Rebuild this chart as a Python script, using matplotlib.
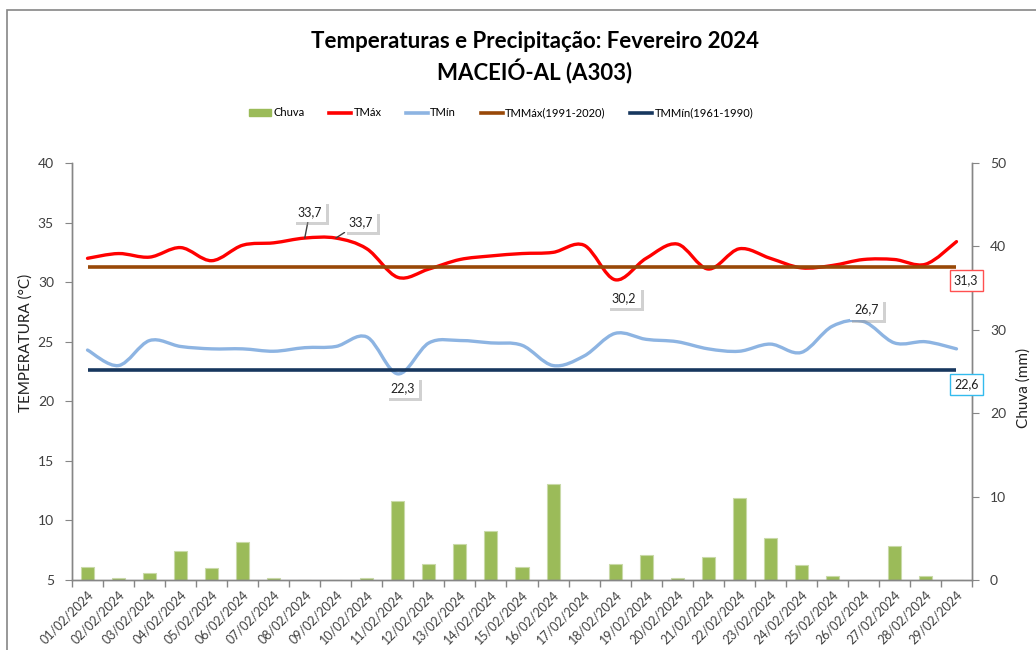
import numpy as np
import matplotlib
matplotlib.use("Agg")
import matplotlib.pyplot as plt
from matplotlib.path import Path
from matplotlib.patches import PathPatch, Rectangle
from matplotlib.lines import Line2D
from matplotlib.patches import Patch
import matplotlib.patheffects as pe

plt.rcParams['font.family'] = ['Lato', 'DejaVu Sans']

dias = [f"{d:02d}/02/2024" for d in range(1, 30)]

tmax = [32.0, 32.4, 32.1, 32.9, 31.8, 33.1, 33.3, 33.7, 33.7, 32.8,
        30.4, 31.1, 31.9, 32.2, 32.4, 32.5, 33.1, 30.2, 32.0, 33.2,
        31.1, 32.8, 32.0, 31.2, 31.4, 31.9, 31.9, 31.5, 33.4]

tmin = [24.3, 23.0, 25.1, 24.6, 24.4, 24.4, 24.2, 24.5, 24.6, 25.4,
        22.3, 24.9, 25.1, 24.9, 24.7, 23.0, 23.8, 25.7, 25.2, 25.0,
        24.4, 24.2, 24.8, 24.1, 26.3, 26.7, 24.9, 25.0, 24.4]

chuva = [1.5, 0.2, 0.8, 3.5, 1.4, 4.6, 0.2, 0.0, 0.0, 0.2,
         9.5, 1.9, 4.3, 5.9, 1.5, 11.5, 0.0, 1.9, 3.0, 0.2,
         2.8, 9.8, 5.0, 1.8, 0.5, 0.0, 4.1, 0.5, 0.0]

tm_max_normal = 31.3
tm_min_normal = 22.6

C_RAIN = '#9BBB59'
C_TMAX = '#FF0000'
C_TMIN = '#8DB4E2'
C_NMAX = '#984807'
C_NMIN = '#17375E'
C_AXIS = '#868686'
C_TEXT = '#404040'


def smooth_path(x, y):
    # bezier do tipo "linha suavizada" do Excel (catmull-rom)
    pts = np.column_stack([x, y]).astype(float)
    n = len(pts)
    verts = [pts[0]]
    codes = [Path.MOVETO]
    for i in range(n - 1):
        p0 = pts[i - 1] if i > 0 else pts[i]
        p1 = pts[i]
        p2 = pts[i + 1]
        p3 = pts[i + 2] if i + 2 < n else pts[i + 1]
        verts += [p1 + (p2 - p0) / 6, p2 - (p3 - p1) / 6, p2]
        codes += [Path.CURVE4] * 3
    return Path(verts, codes)


fig = plt.figure(figsize=(10.36, 6.5), dpi=100)
fig.patches.append(Rectangle((7 / 1036, -0.1), 1.2, 1 - 10 / 650 + 0.1,
                             transform=fig.transFigure, fill=False,
                             ec=C_AXIS, lw=1.2))

ax = fig.add_axes([72 / 1036, 1 - 580 / 650, 900 / 1036, 417 / 650])
ax2 = ax.twinx()
ax.set_zorder(ax2.get_zorder() + 1)
ax.patch.set_visible(False)

x = np.arange(len(dias))

ax2.bar(x, chuva, width=0.42, color=C_RAIN, edgecolor='#C9DAA8', linewidth=0.8)
ax2.set_ylim(0, 50)
ax2.set_yticks(np.arange(0, 51, 10))

ax.add_patch(PathPatch(smooth_path(x, tmax), fill=False, ec=C_TMAX, lw=2.4,
                       capstyle='round'))
ax.add_patch(PathPatch(smooth_path(x, tmin), fill=False, ec=C_TMIN, lw=2.4,
                       capstyle='round'))
ax.plot(x, [tm_max_normal] * len(x), color=C_NMAX, lw=2.6, solid_capstyle='butt')
ax.plot(x, [tm_min_normal] * len(x), color=C_NMIN, lw=2.6, solid_capstyle='butt')

ax.set_xlim(-0.5, len(x) - 0.5)
ax.set_ylim(5, 40)
ax.set_yticks(np.arange(5, 41, 5))
ax.set_xticks(x)
ax.set_xticklabels(dias, rotation=45, ha='right', rotation_mode='anchor',
                   fontsize=9, color=C_TEXT)
ax.set_xticks(np.arange(-0.5, len(x), 1), minor=True)
ax.tick_params(axis='x', which='major', length=0, pad=6)
ax.tick_params(axis='x', which='minor', length=5, color=C_AXIS, width=1)
ax.tick_params(axis='y', length=5, color=C_AXIS, labelsize=10, labelcolor=C_TEXT, pad=8)
ax2.tick_params(axis='y', length=5, color=C_AXIS, labelsize=10, labelcolor=C_TEXT, pad=8)

for a in (ax, ax2):
    a.spines['top'].set_visible(False)
    for s in ('left', 'right', 'bottom'):
        a.spines[s].set_color(C_AXIS)
        a.spines[s].set_linewidth(1)

ax.set_ylabel('TEMPERATURA (°C)', fontsize=11, color='#202020')
ax.yaxis.set_label_coords(-0.044, 0.568)
ax2.set_ylabel('Chuva (mm)', fontsize=11, color='#202020', rotation=90)
ax2.yaxis.set_label_coords(1.049, 0.46)

shadow = [pe.withSimplePatchShadow(offset=(2, -2), shadow_rgbFace='#999999', alpha=0.45)]


def rotulo(xi, yi, txt, dx, dy, ec='none', leader=False):
    arrow = dict(arrowstyle='-', color='#404040', lw=1, shrinkA=0, shrinkB=0) if leader else None
    t = ax.annotate(txt, (xi, yi), xytext=(dx, dy), textcoords='offset points',
                    ha='center', va='center', fontsize=9, color='#202020',
                    bbox=dict(boxstyle='square,pad=0.35', fc='white', ec=ec, lw=1),
                    arrowprops=arrow, zorder=5)
    if ec == 'none':
        t.get_bbox_patch().set_path_effects(shadow)
    return t


rotulo(7, tmax[7], '33,7', 3.6, 18.7, leader=True)
rotulo(8, tmax[8], '33,7', 18, 11.5, leader=True)
rotulo(17, tmax[17], '30,2', 6.5, -13)
rotulo(10, tmin[10], '22,3', 3.6, -10)
rotulo(25, tmin[25], '26,7', 2, 8.6)
rotulo(len(x) - 1, tm_max_normal, '31,3', 7, -10, ec='#FF5050')
rotulo(len(x) - 1, tm_min_normal, '22,6', 7, -10, ec='#33BBEE')

fig.text(535 / 1036, 1 - 42 / 650, 'Temperaturas e Precipitação: Fevereiro 2024',
         ha='center', va='center', fontsize=16, fontweight='bold', color='black')
fig.text(535 / 1036, 1 - 72 / 650, 'MACEIÓ-AL (A303)',
         ha='center', va='center', fontsize=16, fontweight='bold', color='black')

handles = [Patch(color=C_RAIN), Line2D([], [], color=C_TMAX, lw=2.6),
           Line2D([], [], color=C_TMIN, lw=2.6), Line2D([], [], color=C_NMAX, lw=2.6),
           Line2D([], [], color=C_NMIN, lw=2.6)]
labels = ['Chuva', 'TMáx', 'TMín', 'TMMáx(1991-2020)', 'TMMín(1961-1990)']
fig.legend(handles, labels, loc='center', bbox_to_anchor=(501 / 1036, 1 - 113 / 650),
           ncol=5, frameon=False, fontsize=8, handlelength=2.0, handletextpad=0.2,
           columnspacing=2.2, handleheight=0.6)

fig.savefig('out.png', dpi=100)
